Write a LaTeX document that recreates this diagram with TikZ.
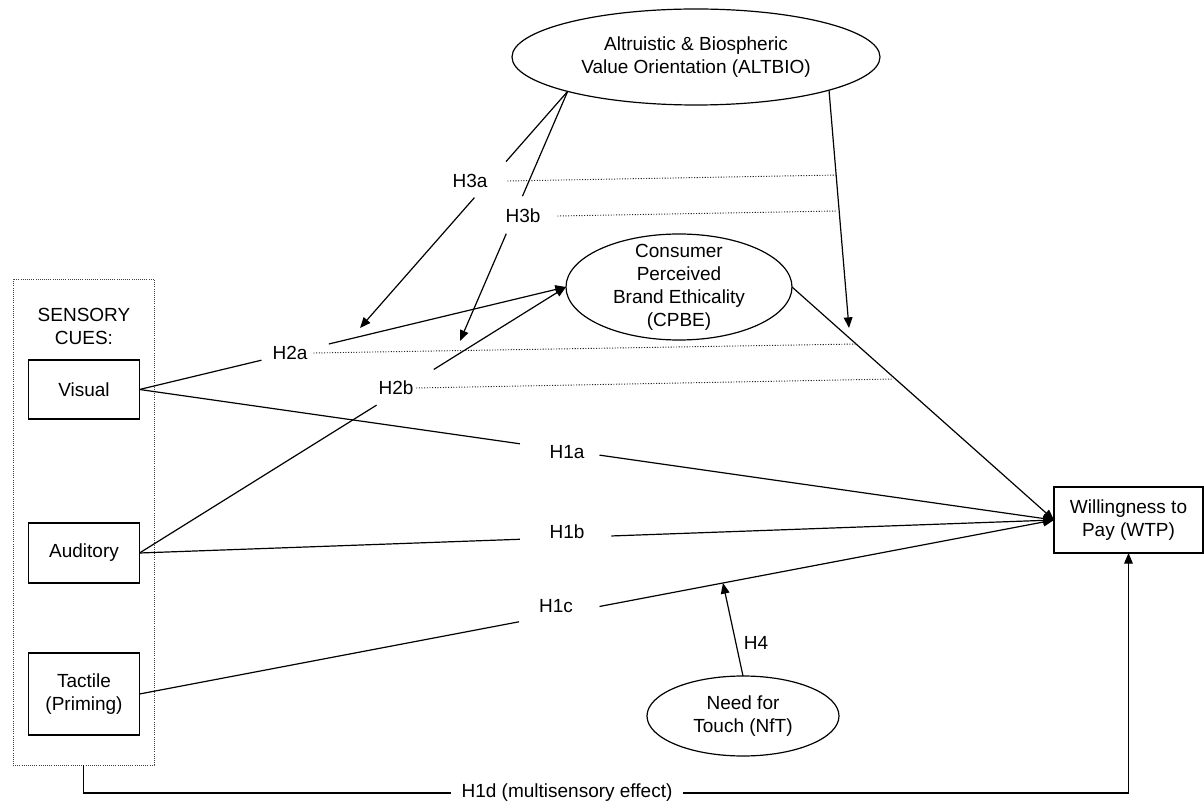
\documentclass[tikz,border=0pt]{standalone}
\usepackage{fontspec}
\setmainfont{Liberation Sans}
\usetikzlibrary{arrows.meta,calc,shapes.geometric}
\begin{document}
\begin{tikzpicture}[x=0.75pt,y=-0.75pt,
  every node/.style={font=\fontsize{14.25}{17.25}\selectfont, inner sep=0pt, outer sep=0pt},
  conn/.style={line width=0.9pt},
  arr/.style={conn,-{Triangle[length=8pt,width=6.5pt]}},
  dots/.style={line width=0.7pt, dash pattern=on 0.8pt off 1.2pt, black!85},
  oval/.style={draw, ellipse, line width=0.9pt, align=center},
  box/.style={draw, rectangle, line width=0.9pt, align=center},
  cuebox/.style={draw=black!75, rectangle, line width=0.6pt, dash pattern=on 0.7pt off 0.9pt},
  lab/.style={align=center}]
\useasboundingbox (0,0) rectangle (1204,805);

% sensory cues group
\node[cuebox, minimum width=105.75pt, minimum height=364.5pt] (cues) at (83.5,522) {};
\node[lab] (sens) at (84,326) {SENSORY\\CUES:};
\node[box, minimum width=83.25pt, minimum height=44.25pt] (vis) at (84,389.5) {Visual};
\node[box, minimum width=83.25pt, minimum height=45pt] (aud) at (84,553) {Auditory};
\node[box, minimum width=83.25pt, minimum height=61.5pt] (tac) at (84,694) {Tactile\\(Priming)};

% constructs
\node[oval, minimum width=276pt, minimum height=72pt] (alt) at (696,57) {Altruistic \& Biospheric\\Value Orientation (ALTBIO)};
\node[oval, inner ysep=-12pt, minimum width=169.5pt, minimum height=79.5pt] (cpbe) at (679,287) {Consumer\\Perceived\\Brand Ethicality\\(CPBE)};
\node[oval, minimum width=144pt, minimum height=60pt] (nft) at (743,716) {Need for\\Touch (NfT)};
\node[box, minimum width=111.75pt, minimum height=49.5pt] (wtp) at (1128.5,520) {Willingness to\\Pay (WTP)};

% labels
\node[lab] (h3a) at (470,181) {H3a};
\node[lab] (h3b) at (523,216) {H3b};
\node[lab] (h2a) at (290,353) {H2a};
\node[lab] (h2b) at (396,388) {H2b};
\node[lab] (h1a) at (567,452) {H1a};
\node[lab] (h1b) at (567,532) {H1b};
\node[lab] (h1c) at (556,606) {H1c};
\node[lab] (h4) at (756,643) {H4};
\node[lab, fill=white, inner xsep=8pt, inner ysep=3pt] (h1d) at (567,793) {H1d (multisensory effect)};

% free ends
\coordinate (s3) at (alt.195);
\coordinate (sv) at (alt.-14.85);
\coordinate (t3a) at (360,328);
\coordinate (t3b) at (460,341);
\coordinate (tv) at (849,328);
\coordinate (t4) at ($(tac.east)!0.638!(wtp.west)$);

% moderation arrows from ALTBIO
\draw[conn] (s3) -- ($(s3)!0.297!(t3a)$);
\draw[arr] ($(s3)!0.449!(t3a)$) -- (t3a);
\draw[conn] (s3) -- ($(s3)!0.42!(t3b)$);
\draw[arr] ($(s3)!0.57!(t3b)$) -- (t3b);
\draw[arr] (sv) -- (tv);

% H2 paths
\draw[conn] (vis.east) -- ($(vis.east)!0.286!(cpbe.west)$);
\draw[arr] ($(vis.east)!0.444!(cpbe.west)$) -- (cpbe.west);
\draw[conn] (aud.east) -- ($(aud.east)!0.556!(cpbe.west)$);
\draw[arr] ($(aud.east)!0.69!(cpbe.west)$) -- (cpbe.west);

% CPBE -> WTP
\draw[arr] (cpbe.east) -- (wtp.west);

% H1 paths
\draw[conn] (vis.east) -- ($(vis.east)!0.416!(wtp.west)$);
\draw[arr] ($(vis.east)!0.503!(wtp.west)$) -- (wtp.west);
\draw[conn] (aud.east) -- ($(aud.east)!0.416!(wtp.west)$);
\draw[arr] ($(aud.east)!0.516!(wtp.west)$) -- (wtp.west);
\draw[conn] (tac.east) -- ($(tac.east)!0.415!(wtp.west)$);
\draw[arr] ($(tac.east)!0.503!(wtp.west)$) -- (wtp.west);

% H4
\draw[arr] (nft.north) -- (t4);

% H1d
\draw[conn] (cues.south) |- (h1d.west);
\draw[arr] (h1d.east) -| (wtp.south);

% dotted guide lines
\draw[dots] ([xshift=15pt]h3a.east) -- (838,175);
\draw[dots] ([xshift=12.75pt]h3b.east) -- (837,211);
\draw[dots] ([xshift=4.5pt]h2a.east) -- (857,344);
\draw[dots] ([xshift=2pt]h2b.east) -- (893,379);
\end{tikzpicture}
\end{document}
